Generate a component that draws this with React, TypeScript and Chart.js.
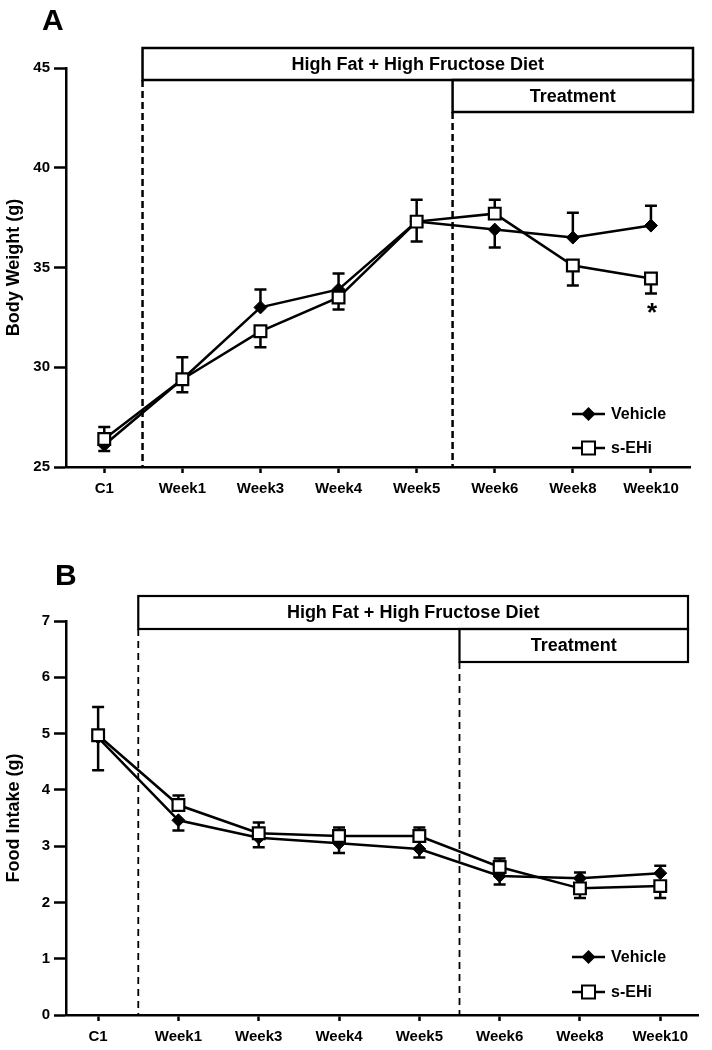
import React, { useEffect, useRef } from 'react';
import { Chart, registerables } from 'chart.js';

Chart.register(...registerables);

// ---------- data ----------
const categories = ['C1', 'Week1', 'Week3', 'Week4', 'Week5', 'Week6', 'Week8', 'Week10'];
const vehicleLabel = 'Vehicle';
const sehiLabel = 's-EHi';
const dietLabel = 'High Fat + High Fructose Diet';
const treatmentLabel = 'Treatment';

// Panel A: body weight (g)
const bwVehicle = [26.1, 29.4, 33.0, 33.9, 37.3, 36.9, 36.5, 37.1];
const bwVehicleHi = [null, 30.5, 33.9, 34.7, 38.4, null, 37.75, 38.1];
const bwVehicleLo = [25.8, null, null, null, null, 36.0, null, null];
const bwSehi = [26.4, 29.4, 31.8, 33.5, 37.3, 37.7, 35.1, 34.45];
const bwSehiHi = [27.0, null, null, null, null, 38.4, null, null];
const bwSehiLo = [null, 28.75, 31.0, 32.9, 36.3, null, 34.1, 33.7];
const bwTicks = [25, 30, 35, 40, 45];

// Panel B: food intake (g)
const fiVehicle = [4.93, 3.46, 3.15, 3.05, 2.95, 2.47, 2.43, 2.52];
const fiVehicleHi = [null, null, null, null, null, null, 2.53, 2.65];
const fiVehicleLo = [4.35, 3.28, 2.98, 2.88, 2.8, 2.32, null, null];
const fiSehi = [4.97, 3.73, 3.23, 3.18, 3.18, 2.63, 2.25, 2.29];
const fiSehiHi = [5.47, 3.9, 3.42, 3.33, 3.33, 2.78, null, null];
const fiSehiLo = [null, null, null, null, null, null, 2.08, 2.08];
const fiTicks = [0, 1, 2, 3, 4, 5, 6, 7];

// ---------- styling ----------
const FONT = '"Liberation Sans", Arial, Helvetica, sans-serif';
Chart.defaults.font.family = FONT;
Chart.defaults.color = '#000';

type Spec = {
  letter: string;
  letterX: number;
  letterY: number;
  yTitle: string;
  yMin: number;
  yMax: number;
  yTicks: number[];
  xMin: number;
  xMax: number;
  padding: { top: number; right: number; bottom: number; left: number };
  vehicle: number[];
  vehicleHi: (number | null)[];
  vehicleLo: (number | null)[];
  sehi: number[];
  sehiHi: (number | null)[];
  sehiLo: (number | null)[];
  dashedAt: number[];
  dashWidth: number;
  dash: number[];
  boxTop: number;
  rowH: number;
  boxRight: number;
  boxWidth: number;
  legendY: number[];
  star: boolean;
  lineWidth: number;
};

function drawSquare(ctx: CanvasRenderingContext2D, x: number, y: number, half: number, lw: number) {
  ctx.save();
  ctx.fillStyle = '#fff';
  ctx.strokeStyle = '#000';
  ctx.lineWidth = lw;
  ctx.beginPath();
  ctx.rect(x - half, y - half, half * 2, half * 2);
  ctx.fill();
  ctx.stroke();
  ctx.restore();
}

function drawDiamond(ctx: CanvasRenderingContext2D, x: number, y: number, r: number) {
  ctx.save();
  ctx.fillStyle = '#000';
  ctx.beginPath();
  ctx.moveTo(x, y - r);
  ctx.lineTo(x + r, y);
  ctx.lineTo(x, y + r);
  ctx.lineTo(x - r, y);
  ctx.closePath();
  ctx.fill();
  ctx.restore();
}

const panelPlugin = {
  id: 'panel',
  beforeDatasetsDraw(chart: any, _args: any, opts: any) {
    const { ctx, chartArea, scales } = chart;
    const xs = scales.x;
    const ys = scales.y;
    ctx.save();
    ctx.strokeStyle = '#000';
    // dashed separators
    ctx.lineWidth = opts.dashWidth;
    ctx.setLineDash(opts.dash);
    opts.dashedAt.forEach((v: number, i: number) => {
      const px = xs.getPixelForValue(v);
      const top = opts.boxTop + opts.rowH * (i + 1);
      ctx.beginPath();
      ctx.moveTo(px, top);
      ctx.lineTo(px, chartArea.bottom);
      ctx.stroke();
    });
    ctx.setLineDash([]);
    // error bars
    ctx.lineWidth = opts.lineWidth;
    ctx.lineCap = 'butt';
    chart.data.datasets.forEach((ds: any) => {
      ds.data.forEach((pt: any, i: number) => {
        const px = xs.getPixelForValue(pt.x);
        const py = ys.getPixelForValue(pt.y);
        [ds.errHi[i], ds.errLo[i]].forEach((end: number | null) => {
          if (end === null || end === undefined) return;
          const ey = ys.getPixelForValue(end);
          ctx.beginPath();
          ctx.moveTo(px, py);
          ctx.lineTo(px, ey);
          ctx.moveTo(px - 6, ey);
          ctx.lineTo(px + 6, ey);
          ctx.stroke();
        });
      });
    });
    ctx.restore();
  },
  afterDraw(chart: any, _args: any, opts: any) {
    const { ctx, scales } = chart;
    const xs = scales.x;
    const ys = scales.y;
    ctx.save();
    ctx.fillStyle = '#000';
    ctx.strokeStyle = '#000';
    // panel letter
    ctx.font = `bold 30px ${FONT}`;
    ctx.textAlign = 'left';
    ctx.textBaseline = 'alphabetic';
    ctx.fillText(opts.letter, opts.letterX, opts.letterY);

    // boxes
    const dietX = xs.getPixelForValue(opts.dashedAt[0]);
    const treatX = xs.getPixelForValue(opts.dashedAt[1]);
    ctx.lineWidth = opts.boxWidth;
    ctx.strokeRect(dietX, opts.boxTop, opts.boxRight - dietX, opts.rowH);
    ctx.strokeRect(treatX, opts.boxTop + opts.rowH, opts.boxRight - treatX, opts.rowH);
    ctx.font = `bold 18px ${FONT}`;
    ctx.textAlign = 'center';
    ctx.textBaseline = 'middle';
    ctx.fillText(opts.diet, (dietX + opts.boxRight) / 2, opts.boxTop + opts.rowH / 2 + 1);
    ctx.fillText(opts.treatment, (treatX + opts.boxRight) / 2, opts.boxTop + opts.rowH * 1.5 + 1);

    // legend
    const items = [
      { label: opts.vehicleLabel, kind: 'diamond' },
      { label: opts.sehiLabel, kind: 'square' },
    ];
    items.forEach((it, k) => {
      const ly = opts.legendY[k];
      ctx.lineWidth = 2.5;
      ctx.beginPath();
      ctx.moveTo(572, ly);
      ctx.lineTo(605, ly);
      ctx.stroke();
      if (it.kind === 'diamond') drawDiamond(ctx, 588.5, ly, 7);
      else drawSquare(ctx, 588.5, ly, 6.5, 2);
      ctx.fillStyle = '#000';
      ctx.font = `bold 16px ${FONT}`;
      ctx.textAlign = 'left';
      ctx.textBaseline = 'middle';
      ctx.fillText(it.label, 611, ly + 1);
    });

    // significance marker
    if (opts.star) {
      const last = categories.length - 1;
      const px = xs.getPixelForValue(last);
      const ds = chart.data.datasets[0];
      const ey = ys.getPixelForValue(ds.errLo[last]);
      ctx.font = `bold 26px ${FONT}`;
      ctx.textAlign = 'center';
      ctx.textBaseline = 'alphabetic';
      ctx.fillText('*', px + 1, ey + 28);
    }
    ctx.restore();
  },
};

function makeConfig(s: Spec): any {
  const tickFont = { family: FONT, size: 15, weight: 'bold' as const };
  return {
    type: 'line',
    data: {
      datasets: [
        {
          label: sehiLabel,
          data: s.sehi.map((v, i) => ({ x: i, y: v })),
          errHi: s.sehiHi,
          errLo: s.sehiLo,
          borderColor: '#000',
          borderWidth: s.lineWidth,
          pointStyle: 'rect',
          pointRadius: 8.3,
          pointBackgroundColor: '#fff',
          pointBorderColor: '#000',
          pointBorderWidth: 2.2,
          tension: 0,
          order: 0,
        },
        {
          label: vehicleLabel,
          data: s.vehicle.map((v, i) => ({ x: i, y: v })),
          errHi: s.vehicleHi,
          errLo: s.vehicleLo,
          borderColor: '#000',
          borderWidth: s.lineWidth,
          pointStyle: 'rectRot',
          pointRadius: 6.5,
          pointBackgroundColor: '#000',
          pointBorderColor: '#000',
          pointBorderWidth: 1,
          tension: 0,
          order: 1,
        },
      ],
    },
    options: {
      animation: false,
      responsive: false,
      devicePixelRatio: 1,
      layout: { padding: s.padding },
      plugins: {
        legend: { display: false },
        tooltip: { enabled: false },
        panel: {
          letter: s.letter,
          letterX: s.letterX,
          letterY: s.letterY,
          dashedAt: s.dashedAt,
          dashWidth: s.dashWidth,
          dash: s.dash,
          boxTop: s.boxTop,
          rowH: s.rowH,
          boxRight: s.boxRight,
          boxWidth: s.boxWidth,
          legendY: s.legendY,
          star: s.star,
          lineWidth: s.lineWidth,
          diet: dietLabel,
          treatment: treatmentLabel,
          vehicleLabel,
          sehiLabel,
        },
      },
      scales: {
        x: {
          type: 'linear',
          min: s.xMin,
          max: s.xMax,
          afterBuildTicks: (sc: any) => {
            sc.ticks = categories.map((_, i) => ({ value: i }));
          },
          afterFit: (sc: any) => {
            sc.height = 30;
          },
          ticks: {
            callback: (v: number) => categories[v],
            font: tickFont,
            color: '#000',
            padding: 7,
            autoSkip: false,
            maxRotation: 0,
          },
          grid: {
            drawOnChartArea: false,
            drawTicks: true,
            tickLength: 6,
            tickWidth: 2.5,
            tickColor: '#000',
          },
          border: { display: true, color: '#000', width: 2.5 },
        },
        y: {
          type: 'linear',
          min: s.yMin,
          max: s.yMax,
          afterBuildTicks: (sc: any) => {
            sc.ticks = s.yTicks.map((v) => ({ value: v }));
          },
          afterFit: (sc: any) => {
            sc.width = 66;
          },
          title: {
            display: true,
            text: s.yTitle,
            font: { family: FONT, size: 18, weight: 'bold' },
            color: '#000',
            padding: { top: 3, bottom: 0 },
          },
          ticks: {
            font: tickFont,
            color: '#000',
            padding: 4,
          },
          grid: {
            drawOnChartArea: false,
            drawTicks: true,
            tickLength: 12,
            tickWidth: 2.5,
            tickColor: '#000',
          },
          border: { display: true, color: '#000', width: 2.5 },
        },
      },
    },
    plugins: [panelPlugin],
  };
}

const specA: Spec = {
  letter: 'A',
  letterX: 42,
  letterY: 30,
  yTitle: 'Body Weight (g)',
  yMin: 25,
  yMax: 45,
  yTicks: bwTicks,
  xMin: -0.49,
  xMax: 7.5,
  padding: { top: 68, right: 22, bottom: 28, left: 0 },
  vehicle: bwVehicle,
  vehicleHi: bwVehicleHi,
  vehicleLo: bwVehicleLo,
  sehi: bwSehi,
  sehiHi: bwSehiHi,
  sehiLo: bwSehiLo,
  dashedAt: [0.49, 4.46],
  dashWidth: 2.5,
  dash: [7, 4],
  boxTop: 48,
  rowH: 32,
  boxRight: 693,
  boxWidth: 2.5,
  legendY: [414, 448],
  star: true,
  lineWidth: 2.5,
};

const specB: Spec = {
  letter: 'B',
  letterX: 55,
  letterY: 60,
  yTitle: 'Food Intake (g)',
  yMin: 0,
  yMax: 7,
  yTicks: fiTicks,
  xMin: -0.4,
  xMax: 7.47,
  padding: { top: 96, right: 14, bottom: 5, left: 0 },
  vehicle: fiVehicle,
  vehicleHi: fiVehicleHi,
  vehicleLo: fiVehicleLo,
  sehi: fiSehi,
  sehiHi: fiSehiHi,
  sehiLo: fiSehiLo,
  dashedAt: [0.5, 4.5],
  dashWidth: 1.8,
  dash: [7, 5],
  boxTop: 71,
  rowH: 33,
  boxRight: 688,
  boxWidth: 2.2,
  legendY: [432, 467],
  star: false,
  lineWidth: 2.5,
};

function Panel({ spec, top }: { spec: Spec; top: number }) {
  const ref = useRef<HTMLCanvasElement>(null);
  useEffect(() => {
    const chart = new Chart(ref.current as HTMLCanvasElement, makeConfig(spec));
    return () => chart.destroy();
  }, [spec]);
  return (
    <canvas
      ref={ref}
      width={712}
      height={525}
      style={{ position: 'absolute', left: 0, top, width: 712, height: 525, display: 'block' }}
    />
  );
}

export default function App() {
  return (
    <div style={{ position: 'absolute', left: 0, top: 0, width: 712, height: 1050, background: '#fff' }}>
      <Panel spec={specA} top={0} />
      <Panel spec={specB} top={525} />
    </div>
  );
}
